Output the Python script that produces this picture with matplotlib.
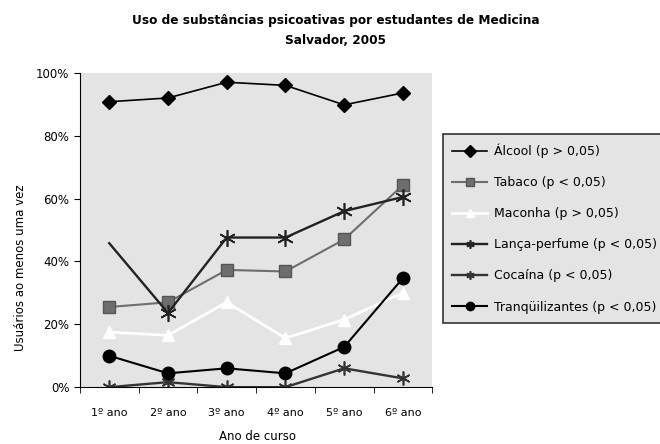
import matplotlib
matplotlib.use("Agg")
import matplotlib.pyplot as plt
import numpy as np

plt.rcParams['font.family'] = ['DejaVu Sans']

anos = ['1º ano', '2º ano', '3º ano', '4º ano', '5º ano', '6º ano']

alcool = [90.8, 92.0, 97.0, 96.0, 89.8, 93.6]
tabaco = [25.5, 27.0, 37.3, 36.8, 47.0, 64.3]
maconha = [17.5, 16.5, 27.0, 15.6, 21.5, 30.0]
lanca = [45.8, 23.6, 47.6, 47.6, 56.0, 60.5]
cocaina = [0.0, 1.6, 0.0, 0.0, 6.0, 2.8]
tranq = [10.0, 4.4, 6.0, 4.4, 12.8, 34.7]

x = np.arange(len(anos))

fig = plt.figure(figsize=(6.6, 4.44), dpi=100)
ax = fig.add_axes([0.121, 0.128, 0.534, 0.708])
ax.set_facecolor('#e4e4e4')

ax.plot(x, alcool, '-D', color='black', lw=1.2, ms=7, label='Álcool (p > 0,05)')
ax.plot(x, tabaco, '-s', color='#6e6e6e', mec='#555555', lw=1.5, ms=9, label='Tabaco (p < 0,05)')
ax.plot(x, maconha, '-^', color='white', lw=2, ms=8, label='Maconha (p > 0,05)')
ax.plot(x, lanca, '-', color='#222222', lw=1.7, marker=(6, 2, 0), ms=12, mew=1.2,
        markevery=[1, 2, 3, 4, 5], label='Lança-perfume (p < 0,05)')
ax.plot(x, cocaina, '-', color='#333333', lw=1.7, marker=(6, 2, 0), ms=10, mew=1.2,
        label='Cocaína (p < 0,05)')
ax.plot(x, tranq, '-o', color='black', lw=1.5, ms=9, label='Tranqüilizantes (p < 0,05)')

ax.set_xlim(-0.5, len(anos) - 0.5)
ax.set_ylim(0, 100)
ax.set_yticks(np.arange(0, 101, 20))
ax.set_yticklabels([f'{v}%' for v in range(0, 101, 20)])
ax.set_xticks(x)
ax.set_xticklabels(anos)
ax.set_xticks(np.arange(-0.5, len(anos), 1), minor=True)
ax.tick_params(axis='x', which='major', length=0, pad=15, labelsize=8)
ax.tick_params(axis='x', which='minor', length=4, direction='out')
ax.tick_params(axis='y', length=4, direction='out', labelsize=8.5)

for s in ['top', 'right']:
    ax.spines[s].set_visible(False)

ax.set_xlabel('Ano de curso', fontsize=8.5)
ax.xaxis.set_label_coords(0.503, -0.135)
ax.set_ylabel('Usuários ao menos uma vez', fontsize=8.5)
ax.yaxis.set_label_coords(-0.15, 0.38)

fig.text(0.509, 0.953, 'Uso de substâncias psicoativas por estudantes de Medicina',
         ha='center', va='center', fontsize=8.7, fontweight='bold')
fig.text(0.509, 0.908, 'Salvador, 2005', ha='center', va='center',
         fontsize=8.7, fontweight='bold')

leg = fig.legend(loc='upper left', bbox_to_anchor=(0.671, 0.698), borderaxespad=0,
                 fontsize=9, frameon=True, fancybox=False, edgecolor='#333333',
                 facecolor='#e4e4e4', framealpha=1, handlelength=2.8,
                 labelspacing=1.45, borderpad=0.75, handletextpad=0.55)
leg.get_frame().set_linewidth(1.2)
for h in leg.legend_handles:
    h.set_markersize(6)

fig.savefig('out.png', dpi=100)
